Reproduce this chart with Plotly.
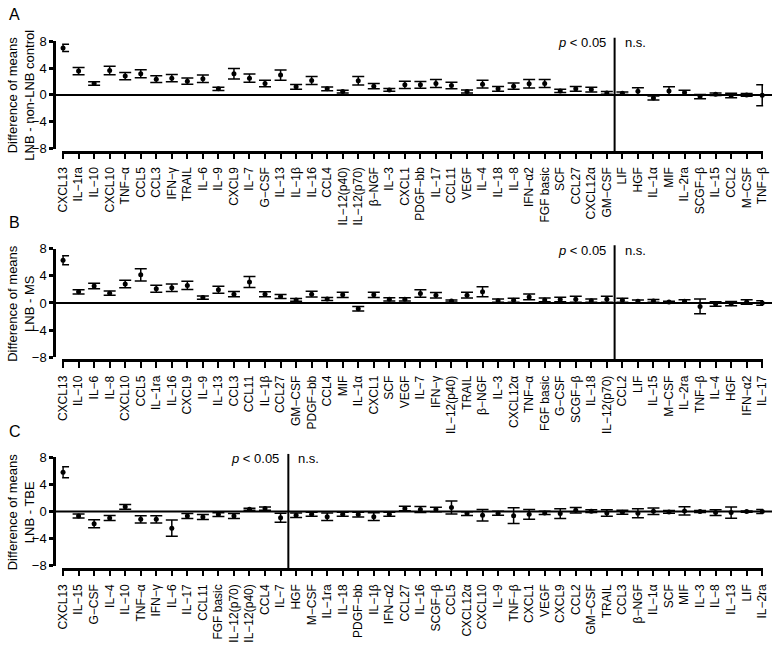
import plotly.graph_objects as go

# -----------------------------
# Data (difference of means and CI half-width)
# -----------------------------
cats_a = ["CXCL13", "IL−1ra", "IL−10", "CXCL10", "TNF−α", "CCL5", "CCL3", "IFN−γ", "TRAIL", "IL−6",
          "IL−9", "CXCL9", "IL−7", "G−CSF", "IL−13", "IL−1β", "IL−16", "CCL4", "IL−12(p40)", "IL−12(p70)",
          "β−NGF", "IL−3", "CXCL1", "PDGF−bb", "IL−17", "CCL11", "VEGF", "IL−4", "IL−18", "IL−8",
          "IFN−α2", "FGF basic", "SCF", "CCL27", "CXCL12α", "GM−CSF", "LIF", "HGF", "IL−1α", "MIF",
          "IL−2ra", "SCGF−β", "IL−15", "CCL2", "M−CSF", "TNF−β"]
mean_a = [7.0, 3.55, 1.7, 3.65, 2.8, 3.15, 2.35, 2.5, 2.05, 2.4,
          0.9, 3.15, 2.5, 1.7, 2.95, 1.2, 2.15, 0.9, 0.5, 2.1,
          1.3, 0.75, 1.5, 1.5, 1.7, 1.4, 0.5, 1.6, 0.9, 1.3,
          1.65, 1.7, 0.6, 0.9, 0.8, 0.3, 0.25, 0.55, -0.45, 0.6,
          0.35, -0.25, 0.1, -0.1, 0.0, -0.05]
err_a = [0.55, 0.55, 0.27, 0.63, 0.55, 0.6, 0.5, 0.53, 0.48, 0.55,
         0.25, 0.78, 0.6, 0.48, 0.75, 0.34, 0.6, 0.27, 0.2, 0.63,
         0.39, 0.22, 0.55, 0.5, 0.6, 0.5, 0.22, 0.58, 0.36, 0.46,
         0.63, 0.6, 0.24, 0.36, 0.36, 0.2, 0.2, 0.53, 0.3, 0.6,
         0.36, 0.32, 0.2, 0.34, 0.2, 1.55]

cats_b = ["CXCL13", "IL−10", "IL−6", "IL−8", "CXCL10", "CCL5", "IL−1ra", "IL−16", "CXCL9", "IL−9",
          "IL−13", "CCL3", "CCL11", "IL−1β", "CCL27", "GM−CSF", "PDGF−bb", "CCL4", "MIF", "IL−1α",
          "CXCL1", "SCF", "VEGF", "IL−7", "IFN−γ", "IL−12(p40)", "TRAIL", "β−NGF", "IL−3", "CXCL12α",
          "TNF−α", "FGF basic", "G−CSF", "SCGF−β", "IL−18", "IL−12(p70)", "CCL2", "LIF", "IL−15", "M−CSF",
          "IL−2ra", "TNF−β", "IL−4", "HGF", "IFN−α2", "IL−17"]
mean_b = [6.3, 1.65, 2.5, 1.45, 2.8, 4.15, 2.1, 2.25, 2.6, 0.8,
          1.95, 1.3, 3.1, 1.3, 0.95, 0.45, 1.3, 0.6, 1.2, -0.85,
          1.2, 0.55, 0.55, 1.4, 1.15, 0.3, 1.15, 1.65, 0.35, 0.4,
          0.9, 0.45, 0.5, 0.55, 0.35, 0.55, 0.4, 0.25, 0.3, 0.15,
          0.25, -0.5, -0.15, -0.1, 0.15, 0.0]
err_b = [0.67, 0.32, 0.4, 0.32, 0.55, 0.9, 0.52, 0.57, 0.6, 0.24,
         0.52, 0.38, 0.8, 0.36, 0.3, 0.2, 0.42, 0.22, 0.4, 0.32,
         0.4, 0.24, 0.24, 0.57, 0.4, 0.15, 0.43, 0.74, 0.24, 0.29,
         0.43, 0.27, 0.33, 0.43, 0.24, 0.43, 0.29, 0.2, 0.2, 0.1,
         0.24, 1.08, 0.32, 0.32, 0.32, 0.34]

cats_c = ["CXCL13", "IL−15", "G−CSF", "IL−4", "IL−10", "TNF−α", "IFN−γ", "IL−6", "IL−17", "CCL11",
          "FGF basic", "IL−12(p70)", "IL−12(p40)", "CCL4", "IL−7", "HGF", "M−CSF", "IL−1ra", "IL−18", "PDGF−bb",
          "IL−1β", "IFN−α2", "CCL27", "IL−16", "SCGF−β", "CCL5", "CXCL12α", "CXCL10", "IL−9", "TNF−β",
          "CXCL1", "VEGF", "CXCL9", "CCL2", "GM−CSF", "TRAIL", "CCL3", "β−NGF", "IL−1α", "SCF",
          "MIF", "IL−3", "IL−8", "IL−13", "LIF", "IL−2ra"]
mean_c = [5.8, -0.65, -1.8, -0.95, 0.7, -1.15, -1.15, -2.45, -0.65, -0.8,
          -0.45, -0.65, 0.35, 0.45, -0.9, -0.55, -0.4, -0.75, -0.4, -0.45,
          -0.75, -0.4, 0.45, 0.3, 0.3, 0.6, -0.3, -0.55, -0.25, -0.6,
          -0.4, -0.2, -0.3, 0.2, 0.05, -0.2, -0.1, -0.25, 0.05, -0.05,
          0.1, 0.0, -0.15, -0.15, 0.0, 0.0]
err_c = [0.82, 0.29, 0.58, 0.38, 0.36, 0.53, 0.53, 1.2, 0.36, 0.38,
         0.29, 0.38, 0.15, 0.24, 0.67, 0.34, 0.29, 0.55, 0.29, 0.34,
         0.58, 0.3, 0.34, 0.45, 0.34, 0.96, 0.29, 0.84, 0.29, 1.15,
         0.72, 0.24, 0.72, 0.41, 0.2, 0.48, 0.29, 0.67, 0.48, 0.2,
         0.62, 0.15, 0.43, 0.82, 0.1, 0.3]

# -----------------------------
# Panel geometry (pixels in a 778x649 figure)
# -----------------------------
W, H = 778, 649
FONT = "Liberation Sans, Arial, sans-serif"


def fx(p):
    return p / W


def fy(p):
    return 1 - p / H


# data, y=8 px, y=-8 px, x-axis px, split position, y title, letter, letter px
panels = [
    (cats_a, mean_a, err_a, 35, 145, 148, 35.5, "LNB - non-LNB control", "A", 8),
    (cats_b, mean_b, err_b, 247.5, 358.5, 361.5, 35.5, "LNB - MS", "B", 221),
    (cats_c, mean_c, err_c, 461, 572, 575, 14.5, "LNB - TBE", "C", 435),
]

fig = go.Figure()
shapes = []
annotations = []

for i, (cats, means, errs, ytop, ybot, xline, split, ytitle, letter, ly) in enumerate(panels):
    n = "" if i == 0 else str(i + 1)
    fig.add_trace(go.Scatter(
        x=cats, y=means,
        mode="markers",
        marker=dict(color="black", size=5),
        error_y=dict(type="data", array=errs, visible=True,
                     color="black", thickness=1.5, width=6),
        xaxis="x" + n, yaxis="y" + n,
        showlegend=False, cliponaxis=False,
    ))

    fig.update_layout(**{
        "xaxis" + n: dict(
            domain=[fx(57), fx(769)], anchor="free", position=fy(xline),
            range=[-0.06, len(cats) - 1 + 0.06],
            type="category", categoryorder="array", categoryarray=cats,
            showline=True, linecolor="black", linewidth=2.5,
            ticks="outside", ticklen=6, tickwidth=2, tickcolor="black",
            ticklabelstandoff=3,
            tickangle=-90, tickfont=dict(size=12, color="black", family=FONT),
            showgrid=False, zeroline=False,
        ),
        "yaxis" + n: dict(
            domain=[fy(ybot), fy(ytop)], anchor="free", position=fx(49),
            range=[-8, 8], tickvals=[-8, -4, 0, 4, 8],
            showline=True, linecolor="black", linewidth=3,
            ticks="outside", ticklen=4, tickwidth=3, tickcolor="black",
            tickfont=dict(size=13, color="black", family=FONT),
            showgrid=False, zeroline=False,
        ),
    })

    # zero line across the panel
    shapes.append(dict(type="line", xref="paper", yref="y" + n,
                       x0=fx(49), x1=1, y0=0, y1=0,
                       line=dict(color="black", width=2)))
    # split between significant and n.s.
    shapes.append(dict(type="line", xref="x" + n, yref="paper",
                       x0=split, x1=split, y0=fy(xline), y1=fy(ytop - 3.5),
                       line=dict(color="black", width=2)))

    annotations += [
        dict(text="<i>p</i> &lt; 0.05", xref="x" + n, yref="paper",
             x=split, y=fy(ytop + 1.5), xanchor="right", yanchor="middle",
             xshift=-7, showarrow=False, font=dict(size=13, color="black", family=FONT)),
        dict(text="n.s.", xref="x" + n, yref="paper",
             x=split, y=fy(ytop + 1.5), xanchor="left", yanchor="middle",
             xshift=8, showarrow=False, font=dict(size=13, color="black", family=FONT)),
        dict(text="Difference of means<br>" + ytitle, xref="paper", yref="paper",
             x=fx(15), y=fy((ytop + ybot) / 2), xanchor="center", yanchor="middle",
             textangle=-90, showarrow=False, align="center",
             font=dict(size=13, color="black", family=FONT)),
        dict(text=letter, xref="paper", yref="paper",
             x=fx(1), y=fy(ly), xanchor="left", yanchor="middle",
             showarrow=False, font=dict(size=16, color="black", family=FONT)),
    ]

fig.update_layout(
    width=W, height=H,
    margin=dict(l=0, r=0, t=0, b=0),
    paper_bgcolor="white", plot_bgcolor="white",
    font=dict(family=FONT, color="black"),
    shapes=shapes, annotations=annotations,
)

# page body has an 8px default margin; drop it so the figure sits at 0,0
fig.write_html("out.html", config={"displayModeBar": False},
               post_script="document.body.style.margin = '0';")
